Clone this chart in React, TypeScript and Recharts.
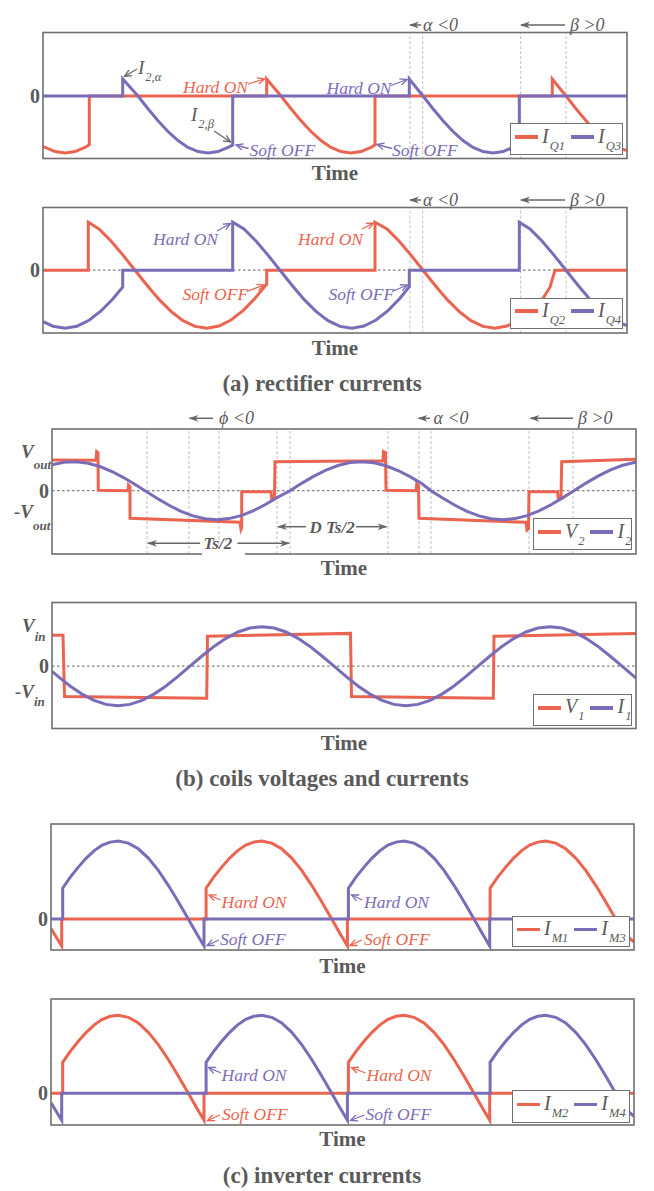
import React from 'react';
import { LineChart, Line, XAxis, YAxis, ReferenceLine, Legend } from 'recharts';

const RED = '#EA6450';
const BLUE = '#7B6CB7';
const GRAY = '#5a5a5a';
const FRAME = '#707070';
const FONT = '"Liberation Serif", "Times New Roman", Times, serif';
const W = 654;
const H = 1191;

type Pt = [number, number];

// ---------- (a) rectifier currents, panel 1 ----------
const iQ1: Pt[] = [[0,-50.3],[7,-53.5],[12,-55.6],[22,-57],[32,-55.6],[42,-51.4],[46.3,-48.7],[46.3,0],[223.7,0],[223.7,17],[238,0],[248,-12.7],[258,-24.7],[268,-35.5],[278,-44.6],[288,-51.4],[298,-55.6],[308,-57],[318,-55.6],[328,-51.4],[332,-49],[332,0],[509.3,0],[509.3,17],[523,0],[533,-12.7],[543,-24.7],[553,-35.5],[563,-44.6],[573,-51.4],[584,-54.5]];
const iQ3: Pt[] = [[0,0],[79.7,0],[79.7,17],[95,0],[105,-12.7],[115,-24.7],[125,-35.5],[135,-44.6],[145,-51.4],[155,-55.6],[165,-57],[175,-55.6],[185,-51.4],[189.7,-49],[189.7,0],[366.3,0],[366.3,17],[380,0],[390,-12.7],[400,-24.7],[410,-35.5],[420,-44.6],[430,-51.4],[440,-55.6],[450,-57],[460,-55.6],[470,-51.4],[476.3,-47.4],[476.3,0],[584,0]];

// ---------- panel 2 ----------
const iQ2: Pt[] = [[0,0],[45.3,0],[45.3,48],[56,41.2],[68,29.2],[80,15.1],[92,0],[104,-15.1],[116,-29.2],[128,-41.2],[140,-50.5],[152,-56.2],[164,-58],[176,-55.8],[188,-49.8],[200,-40.4],[212,-28.1],[223.7,-14],[223.7,0],[332,0],[332,48],[344,41.2],[356,29.2],[368,15.1],[380,0],[392,-15.1],[404,-29.2],[416,-41.2],[428,-50.5],[440,-56.2],[452,-58],[464,-55.8],[476,-49.8],[488,-40.4],[500,-28.1],[507,-17],[512,0],[584,0]];
const iQ4: Pt[] = [[0,-51.3],[10,-56],[22,-58],[34,-56],[46,-50.1],[58,-40.8],[70,-28.6],[77,-20],[79.7,-17],[79.7,0],[189.7,0],[189.7,48],[201,41.2],[213,29.2],[225,15.1],[237,0],[249,-15.1],[261,-29.2],[273,-41.2],[285,-50.5],[297,-56.2],[309,-58],[321,-55.8],[333,-49.8],[345,-40.4],[357,-28.1],[366.3,-16.5],[366.3,0],[476.3,0],[476.3,48],[487,41.2],[499,29.2],[511,15.1],[523,0],[535,-15.1],[547,-29.2],[559,-41.2],[571,-50.5],[584,-55.5]];

// ---------- (b) coils, panel 3 ----------
const v2: Pt[] = [[0,30.7],[44,30.5],[44.7,39],[46,38],[46.3,0.5],[76,0],[76.5,5.7],[78,4],[78,-27.6],[188,-31.6],[189,-38.6],[189.7,-37],[189.7,-1],[219,-1],[219.7,-7.6],[222.5,-6],[223,29],[331,30],[331.5,39],[333.5,38],[334,0.5],[364,0],[364.7,6.7],[366.5,5],[367,-27.6],[474,-31.6],[475,-39.3],[476.5,-38],[477,-1],[505.5,-1],[506.3,-7.6],[509,-6],[509.7,29],[584,31.4]];
const i2: Pt[] = [[0,25.8],[12,28.4],[24,29],[36,27.5],[48,24.2],[60,19.2],[72,12.9],[84,5.7],[93,0],[105,-7.6],[117,-14.6],[129,-20.6],[141,-25.2],[153,-28.1],[165,-29],[177,-27.9],[189,-24.9],[201,-20.2],[213,-14.1],[225,-6.9],[238,0],[250,7.6],[262,14.6],[274,20.6],[286,25.2],[298,28.1],[310,29],[322,27.9],[334,24.9],[346,20.2],[358,14.1],[370,6.9],[379,0],[391,-7.6],[403,-14.6],[415,-20.6],[427,-25.2],[439,-28.1],[451,-29],[463,-27.9],[475,-24.9],[487,-20.2],[499,-14.1],[511,-6.9],[522,0],[534,7.6],[546,14.6],[558,20.6],[570,25.2],[582,28.1],[584,28.3]];

// ---------- panel 4 ----------
const v1: Pt[] = [[0,31],[11,31],[12.5,-30.3],[154.7,-32.1],[155.5,30],[298.5,32.8],[299.5,-30.3],[441.3,-32.1],[442,30],[584,32.8]];
const i1: Pt[] = [[0,-5.2],[6,-10.2],[18,-19.75],[30,-27.9],[42,-34.2],[54,-38.2],[66,-39.5],[78,-38.2],[90,-34.2],[102,-27.9],[114,-19.75],[126,-10.2],[138,0],[150,10.2],[162,19.75],[174,27.9],[186,34.2],[198,38.2],[210,39.5],[222,38.2],[234,34.2],[246,27.9],[258,19.75],[270,10.2],[282,0],[294,-10.2],[306,-19.75],[318,-27.9],[330,-34.2],[342,-38.2],[354,-39.5],[366,-38.2],[378,-34.2],[390,-27.9],[402,-19.75],[414,-10.2],[426,0],[438,10.2],[450,19.75],[462,27.9],[474,34.2],[486,38.2],[498,39.5],[510,38.2],[522,34.2],[534,27.9],[546,19.75],[558,10.2],[570,0],[582,-10.2],[584,-11.9]];

// ---------- (c) inverter, panels 5 and 6 ----------
const iM1: Pt[] = [[0,-9.5],[3,-14.5],[10.7,-27],[10.7,0],[155.1,0],[155.1,31],[162.7,42],[170.7,52],[178.7,61],[186.7,68.5],[194.7,74],[202.7,77],[210.7,78],[220.7,76],[230.7,70.3],[240.7,61],[250.7,48.7],[260.7,33.8],[270.7,17.4],[280.7,0],[288.7,-14],[296.4,-26.9],[296.4,0],[439.1,0],[439.1,31],[446.7,42],[454.7,52],[462.7,61],[470.7,68.5],[478.7,74],[486.7,77],[494.7,78],[504.7,76],[514.7,70.3],[524.7,61],[534.7,48.7],[544.7,33.8],[554.7,17.4],[564.7,0],[572.7,-14],[583,-23]];
const iM3: Pt[] = [[0,0],[11.7,0],[11.7,31],[19.3,42],[27.3,52],[35.3,61],[43.3,68.5],[51.3,74],[59.3,77],[67.3,78],[77.3,76],[87.3,70.3],[97.3,61],[107.3,48.7],[117.3,33.8],[127.3,17.4],[137.3,0],[145.3,-14],[153,-26.9],[153,0],[297.4,0],[297.4,31],[305,42],[313,52],[321,61],[329,68.5],[337,74],[345,77],[353,78],[363,76],[373,70.3],[383,61],[393,48.7],[403,33.8],[413,17.4],[423,0],[431,-14],[438.7,-26.9],[438.7,0],[583,0]];
const iM2: Pt[] = iM3;
const iM4: Pt[] = iM1;

const marksAB = [367, 379.7, 477.7, 523];
const marksV2 = [95, 137, 167, 225, 238, 336, 367, 379, 477, 521];

const pts = (a: Pt[]) => a.map(([t, v]) => ({ t, v }));

type Tick = { v: number; main?: string; sub?: string; x?: number; dy?: number; sdy?: number };
type Panel = {
  top: number; height: number; left: number; right: number; tMax: number;
  yDomain: [number, number]; ticks: Tick[]; zero: boolean; marks: number[];
  series: { name: string; color: string; data: Pt[] }[];
  legend: { x: number; y: number; w: number; h: number; items: { c: string; m: string; s: string }[] };
};

const PANELS: Panel[] = [
  { top: 32.5, height: 126, left: 43, right: 627, tMax: 584, yDomain: [-63, 63], ticks: [{ v: 0 }], zero: false, marks: marksAB,
    series: [{ name: 'IQ1', color: RED, data: iQ1 }, { name: 'IQ3', color: BLUE, data: iQ3 }],
    legend: { x: 510, y: 123, w: 113, h: 32, items: [{ c: RED, m: 'I', s: 'Q1' }, { c: BLUE, m: 'I', s: 'Q3' }] } },
  { top: 207.5, height: 125.5, left: 43, right: 627, tMax: 584, yDomain: [-63.3, 62.2], ticks: [{ v: 0 }], zero: true, marks: marksAB,
    series: [{ name: 'IQ2', color: RED, data: iQ2 }, { name: 'IQ4', color: BLUE, data: iQ4 }],
    legend: { x: 510, y: 297.5, w: 113, h: 31, items: [{ c: RED, m: 'I', s: 'Q2' }, { c: BLUE, m: 'I', s: 'Q4' }] } },
  { top: 429, height: 125, left: 52, right: 636, tMax: 584, yDomain: [-63.3, 61.7],
    ticks: [{ v: 30, main: 'V', sub: 'out', x: 21, dy: -2.7, sdy: 11 }, { v: 0 }, { v: -29.3, main: '-V', sub: 'out', x: 14, dy: -2, sdy: 12 }],
    zero: true, marks: marksV2,
    series: [{ name: 'V2', color: RED, data: v2 }, { name: 'I2', color: BLUE, data: i2 }],
    legend: { x: 533, y: 518, w: 99, h: 32, items: [{ c: RED, m: 'V', s: '2' }, { c: BLUE, m: 'I', s: '2' }] } },
  { top: 602.5, height: 126, left: 52, right: 636, tMax: 584, yDomain: [-62.8, 63.2],
    ticks: [{ v: 31, main: 'V', sub: 'in', x: 22, dy: -3.5, sdy: 9 }, { v: 0 }, { v: -30, main: '-V', sub: 'in', x: 15, dy: 2, sdy: 8 }],
    zero: true, marks: [],
    series: [{ name: 'V1', color: RED, data: v1 }, { name: 'I1', color: BLUE, data: i1 }],
    legend: { x: 533, y: 694, w: 99, h: 31.5, items: [{ c: RED, m: 'V', s: '1' }, { c: BLUE, m: 'I', s: '1' }] } },
  { top: 824, height: 126, left: 51, right: 634, tMax: 583, yDomain: [-30.9, 95.1], ticks: [{ v: 0 }], zero: false, marks: [],
    series: [{ name: 'IM1', color: RED, data: iM1 }, { name: 'IM3', color: BLUE, data: iM3 }],
    legend: { x: 512, y: 915.5, w: 118, h: 31.5, items: [{ c: RED, m: 'I', s: 'M1' }, { c: BLUE, m: 'I', s: 'M3' }] } },
  { top: 999, height: 126, left: 51, right: 634, tMax: 583, yDomain: [-31.7, 94.3], ticks: [{ v: 0 }], zero: false, marks: [],
    series: [{ name: 'IM2', color: RED, data: iM2 }, { name: 'IM4', color: BLUE, data: iM4 }],
    legend: { x: 512, y: 1090, w: 118, h: 32.5, items: [{ c: RED, m: 'I', s: 'M2' }, { c: BLUE, m: 'I', s: 'M4' }] } },
];

function LegendBox({ lg }: { lg: Panel['legend'] }) {
  return (
    <div style={{ width: lg.w, height: lg.h, boxSizing: 'border-box', border: `1.6px solid ${FRAME}`, background: '#fff',
      display: 'flex', alignItems: 'center', paddingLeft: 4, paddingBottom: 4, fontFamily: FONT, color: GRAY }}>
      {lg.items.map((it, i) => (
        <div key={i} style={{ display: 'flex', alignItems: 'center', marginRight: 6 }}>
          <span style={{ display: 'inline-block', width: 23, height: 3.5, background: it.c }} />
          <span style={{ fontStyle: 'italic', fontSize: 20, marginLeft: 4, lineHeight: '20px', whiteSpace: 'nowrap' }}>
            {it.m}
            <span style={{ fontSize: 12.5, position: 'relative', top: 7, marginLeft: 1 }}>{it.s}</span>
          </span>
        </div>
      ))}
    </div>
  );
}

function ChartPanel({ p }: { p: Panel }) {
  const renderTick = (props: any) => {
    const val = props?.payload?.value;
    const cfg = p.ticks.find((t) => Math.abs(t.v - val) < 1e-6);
    const y = props.y;
    if (!cfg || !cfg.main) {
      return (
        <text x={p.left - 3} y={y + 7} textAnchor="end" fontFamily={FONT} fontWeight="bold" fontSize={20} fill={GRAY}>0</text>
      );
    }
    return (
      <text x={cfg.x} y={y + (cfg.dy || 0)} fontFamily={FONT} fontWeight="bold" fontStyle="italic" fontSize={19} fill={GRAY}>
        {cfg.main}
        <tspan fontSize={13} dy={cfg.sdy}>{cfg.sub}</tspan>
      </text>
    );
  };
  return (
    <div style={{ position: 'absolute', left: 0, top: p.top, width: p.right, height: p.height }}>
      <LineChart width={p.right} height={p.height} margin={{ top: 0, right: 0, bottom: 0, left: 0 }}>
        <XAxis type="number" dataKey="t" domain={[0, p.tMax]} hide allowDataOverflow />
        <YAxis type="number" domain={p.yDomain} width={p.left} ticks={p.ticks.map((t) => t.v)} interval={0}
          tick={renderTick} axisLine={false} tickLine={false} allowDataOverflow />
        {p.zero && <ReferenceLine y={0} stroke="#808080" strokeDasharray="2.5 2.5" strokeWidth={1.2} />}
        {p.marks.map((m) => (
          <ReferenceLine key={m} x={m} stroke="#c2c2c2" strokeDasharray="3 2" strokeWidth={1} />
        ))}
        {p.series.map((s) => (
          <Line key={s.name} name={s.name} data={pts(s.data)} dataKey="v" type="linear" stroke={s.color}
            strokeWidth={3} dot={false} activeDot={false} isAnimationActive={false} />
        ))}
        <Legend layout="horizontal" verticalAlign="middle" align="center"
          wrapperStyle={{ left: p.legend.x, top: p.legend.y - p.top, width: p.legend.w, height: p.legend.h }}
          content={() => <LegendBox lg={p.legend} />} />
      </LineChart>
    </div>
  );
}

const Txt = ({ x, y, c = GRAY, s = 17.5, it = true, b = false, a = 'start', children }: any) => (
  <text x={x} y={y} fill={c} fontSize={s} fontStyle={it ? 'italic' : 'normal'} fontWeight={b ? 'bold' : 'normal'} textAnchor={a}>
    {children}
  </text>
);

const Arr = ({ x1, y1, x2, y2, c }: any) => {
  const col = c === 'r' ? RED : c === 'b' ? BLUE : '#666';
  return <line x1={x1} y1={y1} x2={x2} y2={y2} stroke={col} strokeWidth={c === 'd' ? 1.5 : 1.3} markerEnd={`url(#mk-${c})`} />;
};

function Overlay() {
  return (
    <svg width={W} height={H} style={{ position: 'absolute', left: 0, top: 0, pointerEvents: 'none' }} fontFamily={FONT}>
      <defs>
        {[['r', RED], ['b', BLUE], ['g', '#666']].map(([k, col]) => (
          <marker key={k} id={`mk-${k}`} markerUnits="userSpaceOnUse" markerWidth={10} markerHeight={8} refX={8} refY={4} orient="auto">
            <path d="M1,0.8 L8,4 L1,7.2" fill="none" stroke={col} strokeWidth={1.3} />
          </marker>
        ))}
        <marker id="mk-d" markerUnits="userSpaceOnUse" markerWidth={11} markerHeight={8} refX={9} refY={4} orient="auto">
          <path d="M0,0.6 L10,4 L0,7.4 L3,4 Z" fill="#666" />
        </marker>
      </defs>
      {PANELS.map((p, i) => (
        <rect key={i} x={p.left} y={p.top} width={p.right - p.left} height={p.height} fill="none" stroke={FRAME} strokeWidth={1.6} />
      ))}
      <rect x={202} y={551} width={43} height={6} fill="#fff" />

      {/* panel 1 */}
      <Arr x1={421} y1={25} x2={410} y2={25} c="d" />
      <Txt x={423} y={31} s={18}>α &lt;0</Txt>
      <Arr x1={565} y1={25} x2={521} y2={25} c="d" />
      <Txt x={570} y={31} s={18}>β &gt;0</Txt>
      <Txt x={138} y={74} s={19}>I<tspan fontSize={12.5} dy={7} dx={1}>2,α</tspan></Txt>
      <Arr x1={137} y1={69} x2={124.5} y2={76.5} c="g" />
      <Txt x={191} y={121} s={19}>I<tspan fontSize={12.5} dy={7} dx={1}>2,β</tspan></Txt>
      <Arr x1={214} y1={131} x2={230.5} y2={142} c="g" />
      <Txt x={183} y={93} c={RED}>Hard ON</Txt>
      <Arr x1={248} y1={84} x2={264.5} y2={79} c="r" />
      <Txt x={249.5} y={156} c={BLUE}>Soft OFF</Txt>
      <Arr x1={248.5} y1={148.5} x2={236} y2={145} c="b" />
      <Txt x={326.5} y={93.5} c={BLUE}>Hard ON</Txt>
      <Arr x1={391} y1={85.5} x2={407} y2={79.5} c="b" />
      <Txt x={392} y={156} c={BLUE}>Soft OFF</Txt>
      <Arr x1={392} y1={148.5} x2={377} y2={144.5} c="b" />
      <Txt x={335} y={180} a="middle" it={false} b s={21}>Time</Txt>

      {/* panel 2 */}
      <Arr x1={421} y1={200} x2={410} y2={200} c="d" />
      <Txt x={423} y={206} s={18}>α &lt;0</Txt>
      <Arr x1={565} y1={200} x2={521} y2={200} c="d" />
      <Txt x={570} y={206} s={18}>β &gt;0</Txt>
      <Txt x={153} y={245} c={BLUE}>Hard ON</Txt>
      <Arr x1={217} y1={231} x2={230.5} y2={223.5} c="b" />
      <Txt x={298} y={245} c={RED}>Hard ON</Txt>
      <Arr x1={362} y1={229} x2={373.5} y2={223} c="r" />
      <Txt x={182.5} y={299.5} c={RED}>Soft OFF</Txt>
      <Arr x1={246.5} y1={291.5} x2={264} y2={285} c="r" />
      <Txt x={328.5} y={299.5} c={BLUE}>Soft OFF</Txt>
      <Arr x1={392} y1={291.5} x2={407.5} y2={285} c="b" />
      <Txt x={335} y={355} a="middle" it={false} b s={21}>Time</Txt>
      <Txt x={322} y={390.5} a="middle" it={false} b s={23}>(a) rectifier currents</Txt>

      {/* panel 3 */}
      <Arr x1={213} y1={418.3} x2={189.5} y2={418.3} c="d" />
      <Txt x={219} y={424} s={18}>ϕ &lt;0</Txt>
      <Arr x1={430} y1={418.3} x2={418.5} y2={418.3} c="d" />
      <Txt x={433.5} y={424} s={18}>α &lt;0</Txt>
      <Arr x1={573} y1={418.3} x2={530.5} y2={418.3} c="d" />
      <Txt x={578} y={424} s={18}>β &gt;0</Txt>
      <Arr x1={200} y1={543.3} x2={148} y2={543.3} c="d" />
      <Txt x={203.5} y={549} s={17} b>Ts/2</Txt>
      <Arr x1={237.5} y1={543.3} x2={289} y2={543.3} c="d" />
      <Arr x1={306} y1={526.7} x2={278} y2={526.7} c="d" />
      <Txt x={309.5} y={532.5} s={17} b>D Ts/2</Txt>
      <Arr x1={356} y1={526.7} x2={386.5} y2={526.7} c="d" />
      <Txt x={344} y={575} a="middle" it={false} b s={21}>Time</Txt>

      {/* panel 4 */}
      <Txt x={344} y={750} a="middle" it={false} b s={21}>Time</Txt>
      <Txt x={322} y={786} a="middle" it={false} b s={23}>(b) coils voltages and currents</Txt>

      {/* panel 5 */}
      <Txt x={221.5} y={907.5} c={RED}>Hard ON</Txt>
      <Arr x1={220.5} y1={900} x2={209} y2={895} c="r" />
      <Txt x={220} y={945.3} c={BLUE}>Soft OFF</Txt>
      <Arr x1={219} y1={940} x2={207} y2={945.5} c="b" />
      <Txt x={364} y={907.5} c={BLUE}>Hard ON</Txt>
      <Arr x1={362.5} y1={900} x2={351.5} y2={895} c="b" />
      <Txt x={364} y={945.3} c={RED}>Soft OFF</Txt>
      <Arr x1={362} y1={940} x2={350} y2={945.5} c="r" />
      <Txt x={342.5} y={972.5} a="middle" it={false} b s={21}>Time</Txt>

      {/* panel 6 */}
      <Txt x={221.5} y={1080.8} c={BLUE}>Hard ON</Txt>
      <Arr x1={221} y1={1073} x2={208.5} y2={1067.5} c="b" />
      <Txt x={222} y={1119.5} c={RED}>Soft OFF</Txt>
      <Arr x1={220} y1={1115} x2={207.5} y2={1120.5} c="r" />
      <Txt x={366.5} y={1080.8} c={RED}>Hard ON</Txt>
      <Arr x1={365.5} y1={1073} x2={351.5} y2={1067.5} c="r" />
      <Txt x={365.5} y={1119.5} c={BLUE}>Soft OFF</Txt>
      <Arr x1={364.5} y1={1115} x2={350.5} y2={1120.5} c="b" />
      <Txt x={342.5} y={1146} a="middle" it={false} b s={21}>Time</Txt>
      <Txt x={322} y={1182.5} a="middle" it={false} b s={23}>(c) inverter currents</Txt>
    </svg>
  );
}

export default function App() {
  return (
    <div style={{ position: 'absolute', left: 0, top: 0, width: W, height: H, background: '#fff', fontFamily: FONT }}>
      {PANELS.map((p, i) => (
        <ChartPanel key={i} p={p} />
      ))}
      <Overlay />
    </div>
  );
}
